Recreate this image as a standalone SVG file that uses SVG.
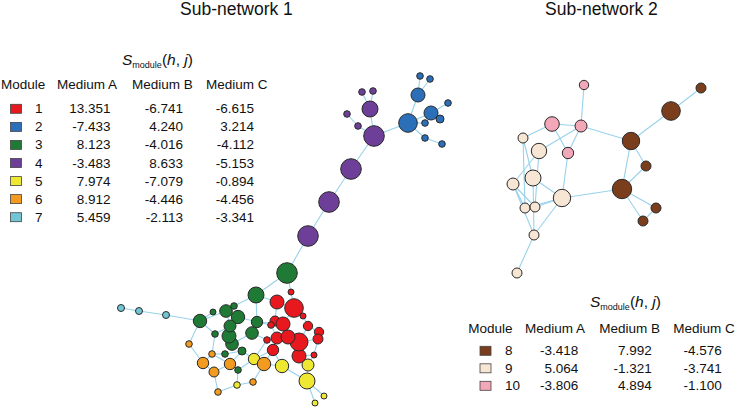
<svg xmlns="http://www.w3.org/2000/svg" width="738" height="408" viewBox="0 0 738 408">
<style>
text{font-family:"Liberation Sans",Arial,sans-serif;fill:#111}
.t{font-size:17.5px}
.h{font-size:13.5px}
.v{font-size:13.5px;text-anchor:end}
.n{font-size:13.5px}
.s{font-size:15.5px}
.e line{stroke:#98d2ea;stroke-width:1.1}
circle{stroke:#2a2a2a;stroke-width:1}
.sw{stroke:#444;stroke-width:0.8}
.red{fill:#e8191e}.blu{fill:#2a6fb7}.grn{fill:#1f7a35}.pur{fill:#6d3f98}
.yel{fill:#efe833}.org{fill:#f39b1e}.cya{fill:#72c6d4}.brn{fill:#7a3e1c}
.crm{fill:#f7e6d3}.pnk{fill:#f3a8ba}
</style>

<text class="t" x="180" y="15">Sub-network 1</text>
<text class="t" x="545" y="15">Sub-network 2</text>

<g id="table1">
<text class="s" x="122" y="65"><tspan font-style="italic">S</tspan><tspan font-size="9" dy="3">module</tspan><tspan dy="-3">(</tspan><tspan font-style="italic">h</tspan>, <tspan font-style="italic">j</tspan>)</text>
<text class="h" x="1" y="89.3">Module</text>
<text class="h" x="57" y="89.3">Medium A</text>
<text class="h" x="132" y="89.3">Medium B</text>
<text class="h" x="206" y="89.3">Medium C</text>
<rect class="sw red" x="10.5" y="104.3" width="11" height="9"/>
<rect class="sw blu" x="10.5" y="122.4" width="11" height="9"/>
<rect class="sw grn" x="10.5" y="140.4" width="11" height="9"/>
<rect class="sw pur" x="10.5" y="158.5" width="11" height="9"/>
<rect class="sw yel" x="10.5" y="176.6" width="11" height="9"/>
<rect class="sw org" x="10.5" y="194.6" width="11" height="9"/>
<rect class="sw cya" x="10.5" y="212.7" width="11" height="9"/>
<text class="n" x="35" y="113.3">1</text>
<text class="n" x="35" y="131.4">2</text>
<text class="n" x="35" y="149.4">3</text>
<text class="n" x="35" y="167.5">4</text>
<text class="n" x="35" y="185.6">5</text>
<text class="n" x="35" y="203.6">6</text>
<text class="n" x="35" y="221.7">7</text>
<text class="v" x="110.5" y="113.3">13.351</text>
<text class="v" x="110.5" y="131.4">-7.433</text>
<text class="v" x="110.5" y="149.4">8.123</text>
<text class="v" x="110.5" y="167.5">-3.483</text>
<text class="v" x="110.5" y="185.6">7.974</text>
<text class="v" x="110.5" y="203.6">8.912</text>
<text class="v" x="110.5" y="221.7">5.459</text>
<text class="v" x="183" y="113.3">-6.741</text>
<text class="v" x="183" y="131.4">4.240</text>
<text class="v" x="183" y="149.4">-4.016</text>
<text class="v" x="183" y="167.5">8.633</text>
<text class="v" x="183" y="185.6">-7.079</text>
<text class="v" x="183" y="203.6">-4.446</text>
<text class="v" x="183" y="221.7">-2.113</text>
<text class="v" x="254" y="113.3">-6.615</text>
<text class="v" x="254" y="131.4">3.214</text>
<text class="v" x="254" y="149.4">-4.112</text>
<text class="v" x="254" y="167.5">-5.153</text>
<text class="v" x="254" y="185.6">-0.894</text>
<text class="v" x="254" y="203.6">-4.456</text>
<text class="v" x="254" y="221.7">-3.341</text>
</g>

<g id="table2">
<text class="s" x="590" y="306.7"><tspan font-style="italic">S</tspan><tspan font-size="9" dy="3">module</tspan><tspan dy="-3">(</tspan><tspan font-style="italic">h</tspan>, <tspan font-style="italic">j</tspan>)</text>
<text class="h" x="468.3" y="333.3">Module</text>
<text class="h" x="525" y="333.3">Medium A</text>
<text class="h" x="599.3" y="333.3">Medium B</text>
<text class="h" x="673.3" y="333.3">Medium C</text>
<rect class="sw brn" x="480" y="346.3" width="11" height="9"/>
<rect class="sw crm" x="480" y="363.8" width="11" height="9"/>
<rect class="sw pnk" x="480" y="381.3" width="11" height="9"/>
<text class="n" x="505" y="355">8</text>
<text class="n" x="505" y="372.5">9</text>
<text class="n" x="505" y="390">10</text>
<text class="v" x="578.3" y="355">-3.418</text>
<text class="v" x="578.3" y="372.5">5.064</text>
<text class="v" x="578.3" y="390">-3.806</text>
<text class="v" x="651.7" y="355">7.992</text>
<text class="v" x="651.7" y="372.5">-1.321</text>
<text class="v" x="651.7" y="390">4.894</text>
<text class="v" x="721.7" y="355">-4.576</text>
<text class="v" x="721.7" y="372.5">-3.741</text>
<text class="v" x="721.7" y="390">-1.100</text>
</g>

<g id="edges" class="e">
<!-- sub-network 1 -->
<line x1="121" y1="308" x2="139" y2="311"/>
<line x1="139" y1="311" x2="166" y2="315"/>
<line x1="166" y1="315" x2="200" y2="321"/>
<line x1="200" y1="321" x2="226" y2="311"/>
<line x1="200" y1="321" x2="189" y2="344"/>
<line x1="200" y1="321" x2="215" y2="334"/>
<line x1="200" y1="321" x2="213" y2="312"/>
<line x1="256" y1="295" x2="287" y2="273"/>
<line x1="256" y1="295" x2="234" y2="306"/>
<line x1="256" y1="295" x2="257" y2="322"/>
<line x1="256" y1="295" x2="277" y2="302"/>
<line x1="287" y1="273" x2="308" y2="236"/>
<line x1="287" y1="273" x2="291" y2="292"/>
<line x1="234" y1="306" x2="226" y2="311"/>
<line x1="226" y1="311" x2="238" y2="317"/>
<line x1="226" y1="311" x2="230" y2="326"/>
<line x1="238" y1="317" x2="257" y2="322"/>
<line x1="238" y1="317" x2="230" y2="326"/>
<line x1="257" y1="322" x2="271" y2="325"/>
<line x1="257" y1="322" x2="252" y2="333"/>
<line x1="230" y1="326" x2="229" y2="336"/>
<line x1="230" y1="326" x2="215" y2="334"/>
<line x1="229" y1="336" x2="232" y2="344"/>
<line x1="252" y1="333" x2="232" y2="344"/>
<line x1="252" y1="333" x2="267" y2="340"/>
<line x1="232" y1="344" x2="242" y2="351"/>
<line x1="242" y1="351" x2="225" y2="354"/>
<line x1="242" y1="351" x2="230" y2="364"/>
<line x1="225" y1="354" x2="212" y2="354"/>
<line x1="215" y1="334" x2="212" y2="354"/>
<line x1="189" y1="344" x2="203" y2="363"/>
<line x1="203" y1="363" x2="214" y2="372"/>
<line x1="203" y1="363" x2="212" y2="354"/>
<line x1="212" y1="354" x2="230" y2="364"/>
<line x1="214" y1="372" x2="230" y2="364"/>
<line x1="214" y1="372" x2="218" y2="392"/>
<line x1="230" y1="364" x2="238" y2="370"/>
<line x1="238" y1="370" x2="237" y2="385"/>
<line x1="218" y1="392" x2="237" y2="385"/>
<line x1="237" y1="385" x2="253" y2="382"/>
<line x1="238" y1="370" x2="254" y2="359"/>
<line x1="254" y1="359" x2="242" y2="351"/>
<line x1="254" y1="359" x2="264" y2="364"/>
<line x1="264" y1="364" x2="253" y2="382"/>
<line x1="264" y1="364" x2="273" y2="350"/>
<line x1="264" y1="364" x2="282" y2="366"/>
<line x1="254" y1="359" x2="267" y2="340"/>
<line x1="291" y1="292" x2="294" y2="308"/>
<line x1="277" y1="302" x2="294" y2="308"/>
<line x1="277" y1="302" x2="275" y2="321"/>
<line x1="294" y1="308" x2="303" y2="316"/>
<line x1="294" y1="308" x2="283" y2="324"/>
<line x1="303" y1="316" x2="308" y2="326"/>
<line x1="275" y1="321" x2="283" y2="324"/>
<line x1="275" y1="321" x2="271" y2="325"/>
<line x1="283" y1="324" x2="288" y2="337"/>
<line x1="271" y1="325" x2="277" y2="338"/>
<line x1="308" y1="326" x2="319" y2="332"/>
<line x1="319" y1="332" x2="318" y2="339"/>
<line x1="308" y1="326" x2="299" y2="342"/>
<line x1="288" y1="337" x2="299" y2="342"/>
<line x1="288" y1="337" x2="277" y2="338"/>
<line x1="299" y1="342" x2="299" y2="356"/>
<line x1="299" y1="342" x2="318" y2="339"/>
<line x1="277" y1="338" x2="267" y2="340"/>
<line x1="277" y1="338" x2="273" y2="350"/>
<line x1="273" y1="350" x2="254" y2="359"/>
<line x1="299" y1="356" x2="314" y2="355"/>
<line x1="299" y1="356" x2="308" y2="365"/>
<line x1="273" y1="350" x2="282" y2="366"/>
<line x1="282" y1="366" x2="307" y2="381"/>
<line x1="308" y1="365" x2="307" y2="381"/>
<line x1="307" y1="381" x2="315" y2="403"/>
<line x1="307" y1="381" x2="324" y2="396"/>
<line x1="314" y1="355" x2="308" y2="365"/>
<line x1="318" y1="339" x2="314" y2="355"/>
<line x1="283" y1="324" x2="257" y2="322"/>
<line x1="308" y1="236" x2="329" y2="202"/>
<line x1="329" y1="202" x2="351" y2="169"/>
<line x1="351" y1="169" x2="374" y2="136"/>
<line x1="374" y1="136" x2="370" y2="109"/>
<line x1="370" y1="109" x2="362" y2="92"/>
<line x1="370" y1="109" x2="373" y2="91"/>
<line x1="374" y1="136" x2="358" y2="126"/>
<line x1="358" y1="126" x2="347" y2="114"/>
<line x1="374" y1="136" x2="408" y2="123"/>
<line x1="408" y1="123" x2="418" y2="95"/>
<line x1="418" y1="95" x2="420" y2="76"/>
<line x1="418" y1="95" x2="430" y2="79"/>
<line x1="408" y1="123" x2="431" y2="113"/>
<line x1="431" y1="113" x2="448" y2="103"/>
<line x1="431" y1="113" x2="440" y2="119"/>
<line x1="408" y1="123" x2="425" y2="123"/>
<line x1="408" y1="123" x2="425" y2="138"/>
<line x1="425" y1="138" x2="442" y2="144"/>
<!-- sub-network 2 -->
<line x1="584" y1="85" x2="581" y2="126"/>
<line x1="552" y1="124" x2="581" y2="126"/>
<line x1="552" y1="124" x2="523" y2="138"/>
<line x1="552" y1="124" x2="568" y2="153"/>
<line x1="581" y1="126" x2="568" y2="153"/>
<line x1="581" y1="126" x2="539" y2="151"/>
<line x1="581" y1="126" x2="631" y2="141"/>
<line x1="568" y1="153" x2="562" y2="198"/>
<line x1="523" y1="138" x2="533" y2="178"/>
<line x1="523" y1="138" x2="525" y2="208"/>
<line x1="539" y1="151" x2="513" y2="184"/>
<line x1="539" y1="151" x2="535" y2="207"/>
<line x1="533" y1="178" x2="562" y2="198"/>
<line x1="513" y1="184" x2="525" y2="208"/>
<line x1="513" y1="184" x2="535" y2="207"/>
<line x1="513" y1="184" x2="534" y2="235"/>
<line x1="533" y1="178" x2="534" y2="235"/>
<line x1="525" y1="208" x2="562" y2="198"/>
<line x1="535" y1="207" x2="562" y2="198"/>
<line x1="562" y1="198" x2="534" y2="235"/>
<line x1="534" y1="235" x2="517" y2="273"/>
<line x1="562" y1="198" x2="622" y2="189"/>
<line x1="631" y1="141" x2="671" y2="111"/>
<line x1="671" y1="111" x2="701" y2="88"/>
<line x1="631" y1="141" x2="622" y2="189"/>
<line x1="631" y1="141" x2="646" y2="166"/>
<line x1="646" y1="166" x2="622" y2="189"/>
<line x1="622" y1="189" x2="656" y2="208"/>
<line x1="622" y1="189" x2="643" y2="221"/>
<line x1="656" y1="208" x2="643" y2="221"/>
</g>

<g id="nodes1">
<g id="m7"><circle class="cya" cx="121" cy="308" r="3.5"/><circle class="cya" cx="139" cy="311" r="3.5"/><circle class="cya" cx="166" cy="315" r="3.5"/></g>
<g id="m1">
<circle class="red" cx="291" cy="292" r="3"/>
<circle class="red" cx="277" cy="302" r="7"/>
<circle class="red" cx="294" cy="308" r="9.3"/>
<circle class="red" cx="303" cy="316" r="3"/>
<circle class="red" cx="308" cy="326" r="4.7"/>
<circle class="red" cx="319" cy="332" r="4.7"/>
<circle class="red" cx="318" cy="339" r="5"/>
<circle class="red" cx="299" cy="356" r="7"/>
<circle class="red" cx="314" cy="355" r="3"/>
<circle class="red" cx="299" cy="342" r="9"/>
<circle class="red" cx="275" cy="321" r="5"/>
<circle class="red" cx="283" cy="324" r="7"/>
<circle class="red" cx="271" cy="325" r="3.3"/>
<circle class="red" cx="277" cy="338" r="6"/>
<circle class="red" cx="288" cy="337" r="7"/>
<circle class="red" cx="267" cy="340" r="3.3"/>
<circle class="red" cx="273" cy="350" r="5.7"/>
</g>
<g id="m3">
<circle class="grn" cx="200" cy="321" r="6.7"/>
<circle class="grn" cx="213" cy="312" r="3"/>
<circle class="grn" cx="256" cy="295" r="8"/>
<circle class="grn" cx="287" cy="273" r="10.3"/>
<circle class="grn" cx="226" cy="311" r="6.3"/>
<circle class="grn" cx="234" cy="306" r="3.3"/>
<circle class="grn" cx="238" cy="317" r="6.7"/>
<circle class="grn" cx="257" cy="322" r="5.7"/>
<circle class="grn" cx="215" cy="334" r="3.3"/>
<circle class="grn" cx="252" cy="333" r="6.3"/>
<circle class="grn" cx="232" cy="344" r="6.3"/>
<circle class="grn" cx="229" cy="336" r="7"/>
<circle class="grn" cx="230" cy="326" r="6"/>
<circle class="grn" cx="242" cy="351" r="4"/>
<circle class="grn" cx="225" cy="354" r="3.3"/>
<circle class="grn" cx="238" cy="370" r="3.3"/>
</g>
<g id="m5">
<circle class="yel" cx="254" cy="359" r="5.7"/>
<circle class="yel" cx="282" cy="366" r="6.7"/>
<circle class="yel" cx="308" cy="365" r="6"/>
<circle class="yel" cx="307" cy="381" r="8"/>
<circle class="yel" cx="237" cy="385" r="3.3"/>
<circle class="yel" cx="315" cy="403" r="3"/>
<circle class="yel" cx="324" cy="396" r="3"/>
</g>
<g id="m6">
<circle class="org" cx="189" cy="344" r="3.3"/>
<circle class="org" cx="203" cy="363" r="5.7"/>
<circle class="org" cx="212" cy="354" r="3.3"/>
<circle class="org" cx="214" cy="372" r="5"/>
<circle class="org" cx="230" cy="364" r="5.7"/>
<circle class="org" cx="264" cy="364" r="6.7"/>
<circle class="org" cx="253" cy="382" r="3.3"/>
<circle class="org" cx="218" cy="392" r="3.3"/>
</g>
<g id="m4">
<circle class="pur" cx="308" cy="236" r="10.3"/>
<circle class="pur" cx="329" cy="202" r="10.3"/>
<circle class="pur" cx="351" cy="169" r="10.3"/>
<circle class="pur" cx="374" cy="136" r="10.3"/>
<circle class="pur" cx="370" cy="109" r="8"/>
<circle class="pur" cx="362" cy="92" r="3.3"/>
<circle class="pur" cx="373" cy="91" r="3.3"/>
<circle class="pur" cx="347" cy="114" r="3.3"/>
<circle class="pur" cx="358" cy="126" r="3.3"/>
</g>
<g id="m2">
<circle class="blu" cx="408" cy="123" r="9.3"/>
<circle class="blu" cx="418" cy="95" r="7"/>
<circle class="blu" cx="420" cy="76" r="3.3"/>
<circle class="blu" cx="430" cy="79" r="3.3"/>
<circle class="blu" cx="431" cy="113" r="7"/>
<circle class="blu" cx="448" cy="103" r="3.3"/>
<circle class="blu" cx="440" cy="119" r="4"/>
<circle class="blu" cx="425" cy="123" r="3.3"/>
<circle class="blu" cx="425" cy="138" r="3.3"/>
<circle class="blu" cx="442" cy="144" r="3.3"/>
</g>
</g>

<g id="nodes2">
<g id="m10">
<circle class="pnk" cx="584" cy="85" r="4.7"/>
<circle class="pnk" cx="552" cy="124" r="7.3"/>
<circle class="pnk" cx="581" cy="126" r="6"/>
<circle class="pnk" cx="568" cy="153" r="5.7"/>
</g>
<g id="m9">
<circle class="crm" cx="523" cy="138" r="5"/>
<circle class="crm" cx="539" cy="151" r="7.7"/>
<circle class="crm" cx="533" cy="178" r="8"/>
<circle class="crm" cx="513" cy="184" r="6"/>
<circle class="crm" cx="525" cy="208" r="5"/>
<circle class="crm" cx="535" cy="207" r="5"/>
<circle class="crm" cx="562" cy="198" r="8.7"/>
<circle class="crm" cx="534" cy="235" r="5"/>
<circle class="crm" cx="517" cy="273" r="5"/>
</g>
<g id="m8">
<circle class="brn" cx="631" cy="141" r="8.7"/>
<circle class="brn" cx="671" cy="111" r="9.3"/>
<circle class="brn" cx="701" cy="88" r="5"/>
<circle class="brn" cx="646" cy="166" r="5"/>
<circle class="brn" cx="622" cy="189" r="9.7"/>
<circle class="brn" cx="656" cy="208" r="5"/>
<circle class="brn" cx="643" cy="221" r="5"/>
</g>
</g>
</svg>
